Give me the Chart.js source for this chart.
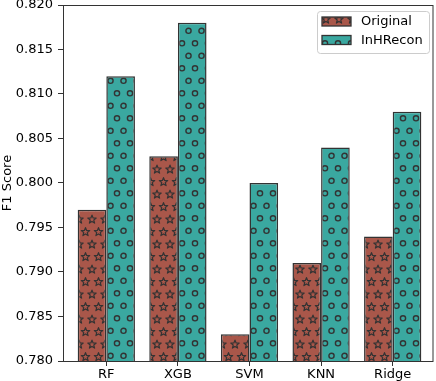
<!DOCTYPE html>
<html>
<head>
<meta charset="utf-8">
<style>
  html, body { margin: 0; padding: 0; background: #fff; }
  #wrap { width: 436px; height: 381px; position: relative; }
</style>
<script src="https://cdn.jsdelivr.net/npm/chart.js@4.4.1/dist/chart.umd.min.js"></script>
</head>
<body>
<div id="wrap"><canvas id="c"></canvas></div>
<script>
const categories = ['RF', 'XGB', 'SVM', 'KNN', 'Ridge'];
const seriesNames = ['Original', 'InHRecon'];
const originalValues = [0.797, 0.803, 0.783, 0.791, 0.794];
const inhreconValues = [0.812, 0.818, 0.800, 0.804, 0.808];
const yTicks = [0.780, 0.785, 0.790, 0.795, 0.800, 0.805, 0.810, 0.815, 0.820];

const FONT = 'DejaVu Sans';
const EDGE = '#333333';
const ORANGE = '#a9574a';
const TEAL = '#3aa8a0';

function makePattern(bg, kind, w, h, pts) {
  const c = document.createElement('canvas');
  c.width = w; c.height = h;
  const g = c.getContext('2d');
  g.fillStyle = bg;
  g.fillRect(0, 0, w, h);
  g.strokeStyle = EDGE;
  g.lineWidth = kind === 'circle' ? 1.4 : 1.2;
  g.lineJoin = 'round';
  for (const [px, py] of pts) {
    for (const dx of [-w, 0, w]) {
      for (const dy of [-h, 0, h]) {
        const x = px + dx, y = py + dy;
        g.beginPath();
        if (kind === 'circle') {
          g.arc(x, y, 2.6, 0, Math.PI * 2);
        } else {
          const R = 4.4, r = 1.9;
          for (let k = 0; k < 10; k++) {
            const ang = -Math.PI / 2 + k * Math.PI / 5;
            const rad = (k % 2 === 0) ? R : r;
            const xx = x + rad * Math.cos(ang), yy = y + rad * Math.sin(ang);
            if (k === 0) g.moveTo(xx, yy); else g.lineTo(xx, yy);
          }
          g.closePath();
        }
        g.stroke();
      }
    }
  }
  return g.createPattern(c, 'repeat');
}

const starPattern = makePattern(ORANGE, 'star', 13, 25, [[1, 19.5], [7.5, 7]]);
const circlePattern = makePattern(TEAL, 'circle', 13, 25, [[0, 18.3], [6.5, 5.8]]);

const frame = {
  id: 'frame',
  afterDatasetsDraw(chart) {
    const { ctx, chartArea: a } = chart;
    ctx.save();
    ctx.strokeStyle = EDGE;
    ctx.lineWidth = 1;
    ctx.strokeRect(a.left + 0.5, a.top + 0.5, a.right - a.left - 0.5, a.bottom - a.top);
    ctx.restore();
  },
  afterDraw(chart) {
    const { ctx } = chart;
    ctx.save();
    const bx = 317.5, by = 11.5, bw = 112, bh = 42, rr = 3;
    ctx.beginPath();
    ctx.moveTo(bx + rr, by);
    ctx.arcTo(bx + bw, by, bx + bw, by + bh, rr);
    ctx.arcTo(bx + bw, by + bh, bx, by + bh, rr);
    ctx.arcTo(bx, by + bh, bx, by, rr);
    ctx.arcTo(bx, by, bx + bw, by, rr);
    ctx.closePath();
    ctx.fillStyle = 'rgba(255,255,255,0.8)';
    ctx.fill();
    ctx.strokeStyle = '#cccccc';
    ctx.lineWidth = 1;
    ctx.stroke();
    const rows = [21.5, 40];
    chart.data.datasets.forEach((ds, i) => {
      const y = rows[i];
      ctx.fillStyle = ds.backgroundColor;
      ctx.fillRect(322, y - 4.5, 29, 9);
      ctx.strokeStyle = EDGE;
      ctx.lineWidth = 1.3;
      ctx.strokeRect(322, y - 4.5, 29, 9);
      ctx.fillStyle = '#000';
      ctx.font = '13px "' + FONT + '"';
      ctx.textBaseline = 'middle';
      ctx.textAlign = 'left';
      ctx.fillText(ds.label, 361, y + 0.5);
    });
    ctx.restore();
  }
};

Chart.defaults.font.family = FONT;
Chart.defaults.color = '#000';

new Chart(document.getElementById('c'), {
  type: 'bar',
  data: {
    datasets: [
      {
        label: seriesNames[0],
        data: originalValues.map((v, i) => ({ x: i, y: v })),
        backgroundColor: starPattern,
        borderColor: EDGE,
        borderWidth: 1.5,
        categoryPercentage: 0.8,
        barPercentage: 1.0
      },
      {
        label: seriesNames[1],
        data: inhreconValues.map((v, i) => ({ x: i, y: v })),
        backgroundColor: circlePattern,
        borderColor: EDGE,
        borderWidth: 1.5,
        categoryPercentage: 0.8,
        barPercentage: 1.0
      }
    ]
  },
  options: {
    responsive: true,
    maintainAspectRatio: false,
    devicePixelRatio: 1,
    animation: false,
    layout: { padding: { top: 5, right: 3, left: 0, bottom: 0 } },
    plugins: {
      legend: { display: false },
      tooltip: { enabled: false }
    },
    scales: {
      x: {
        type: 'linear',
        offset: false,
        min: -0.605,
        max: 4.563,
        afterFit(s) { s.height = 20; s.paddingLeft = 0; s.paddingRight = 0; },
        border: { display: false },
        grid: { offset: false, drawOnChartArea: false, drawTicks: true, tickLength: 5, color: EDGE },
        ticks: {
          stepSize: 1,
          includeBounds: false,
          autoSkip: false,
          maxRotation: 0,
          padding: 1,
          font: { size: 13 },
          color: '#000',
          callback: (v) => Number.isInteger(v) && categories[v] !== undefined ? categories[v] : ''
        }
      },
      y: {
        min: yTicks[0],
        max: yTicks[yTicks.length - 1],
        afterFit(s) { s.width = 63; s.paddingTop = 0; s.paddingBottom = 0; },
        afterBuildTicks(s) { s.ticks = yTicks.map(v => ({ value: v })); },
        border: { display: false },
        grid: { drawOnChartArea: false, drawTicks: true, tickLength: 5, color: EDGE },
        ticks: {
          padding: 5,
          font: { size: 13 },
          color: '#000',
          callback: (v) => Number(v).toFixed(3)
        },
        title: {
          display: true,
          text: 'F1 Score',
          font: { size: 13 },
          color: '#000',
          padding: { top: 0, bottom: 0 }
        }
      }
    }
  },
  plugins: [frame]
});
</script>
</body>
</html>
